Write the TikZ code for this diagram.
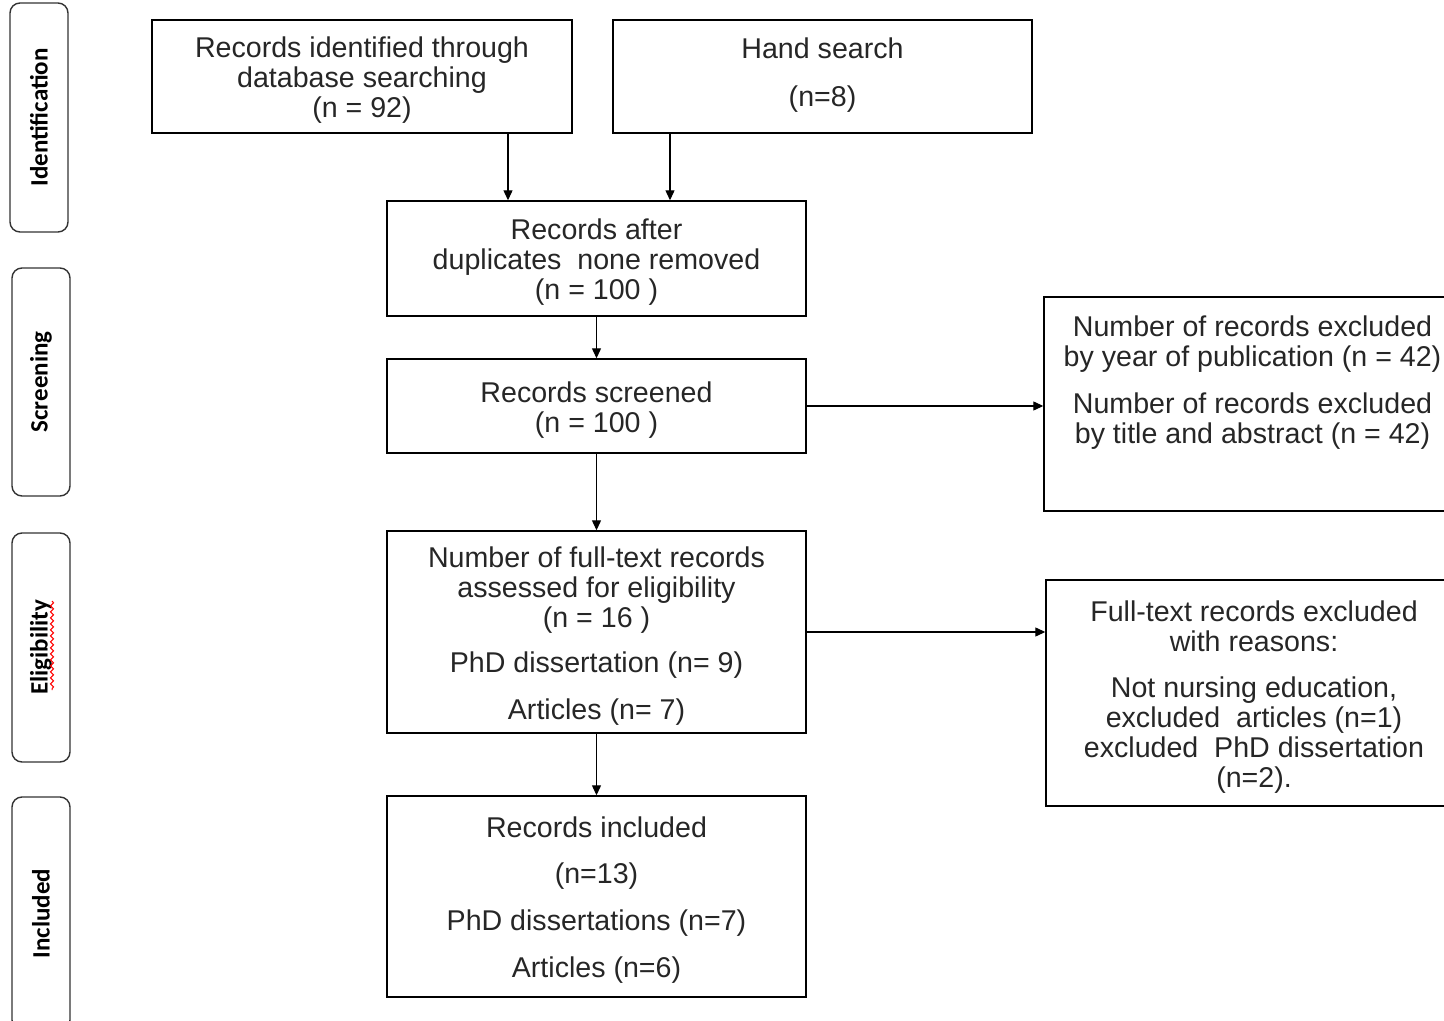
\documentclass[tikz,border=0pt]{standalone}
\usepackage{fontspec}
\setmainfont{Liberation Sans}
\newfontfamily\sidefont{Carlito}
\usetikzlibrary{arrows.meta,decorations.pathmorphing}
\begin{document}
\begin{tikzpicture}[x=0.5pt,y=-0.5pt,
  box/.style={draw=black,line width=0.7pt,rectangle,inner sep=0pt},
  txt/.style={inner sep=0pt,align=center,font=\fontsize{14.3}{15}\selectfont,text=black!85,yshift=-2pt},
  side/.style={draw=black!80,line width=0.7pt,rounded corners=5pt,rectangle,inner sep=0pt,
    rotate=90,font=\sidefont\bfseries\fontsize{12.5}{13}\selectfont,minimum height=29pt},
  arr/.style={-{Triangle[length=5pt,width=4.5pt]},line width=0.6pt,draw=black}]
\useasboundingbox (0,0) rectangle (1444,1021);
% side phase labels
\node[side,minimum width=114.5pt] (s1) at (39,117.5) {Identification};
\node[side,minimum width=114pt] (s2) at (41,382) {Screening};
\node[side,minimum width=114.5pt] (s3) at (41,647.5) {Eligibility};
\node[side,minimum width=116.5pt] (s4) at (41,913.5) {Included};
\draw[red,line width=0.5pt,decorate,decoration={snake,amplitude=0.8pt,segment length=3pt}] (52,601) -- (52,690);
% main boxes
\node[box,minimum width=210pt,minimum height=56.5pt] (A) at (362,76.5) {};
\node[txt] (At) at (A) {Records identified through\\database searching\\(n = 92)};
\node[box,minimum width=209.5pt,minimum height=56.5pt] (B) at (822.5,76.5) {};
\node[txt,yshift=2.5pt] (Bt) at (B) {Hand search\\[9pt](n=8)};
\node[box,minimum width=209.5pt,minimum height=57.5pt] (C) at (596.5,258.5) {};
\node[txt] (Ct) at (C) {Records after\\duplicates\ \ none removed\\(n = 100 )};
\node[box,minimum width=209.5pt,minimum height=47pt] (D) at (596.5,406) {};
\node[txt] (Dt) at (D) {Records screened\\(n = 100 )};
\node[box,minimum width=209.5pt,minimum height=101pt] (E) at (596.5,632) {};
\node[txt] (Et) at (E) {Number of full-text records\\assessed for eligibility\\(n = 16 )\\[7.5pt]PhD dissertation (n= 9)\\[8.5pt]Articles (n= 7)};
\node[box,minimum width=209.5pt,minimum height=100.5pt] (F) at (596.5,896.5) {};
\node[txt] (Ft) at (F) {Records included\\[8pt](n=13)\\[8.5pt]PhD dissertations (n=7)\\[8.5pt]Articles (n=6)};
\node[box,minimum width=208.5pt,minimum height=107pt] (G) at (1252.5,404) {};
\node[txt] (Gt) at (1252.5,378.5)
  {Number of records excluded\\by year of publication (n = 42)\\[8.5pt]Number of records excluded\\by title and abstract (n = 42)};
\node[box,minimum width=208pt,minimum height=113pt] (H) at (1254,693) {};
\node[txt] (Ht) at (H) {Full-text records excluded\\with reasons:\\[8pt]Not nursing education,\\excluded\ \ articles (n=1)\\excluded\ \ PhD dissertation\\(n=2).};
% connectors
\coordinate (xa) at (508,0);
\coordinate (xb) at (670,0);
\draw[arr] (A.south -| xa) -- (C.north -| xa);
\draw[arr] (B.south -| xb) -- (C.north -| xb);
\draw[arr] (C.south) -- (D.north);
\draw[arr] (D.south) -- (E.north);
\draw[arr] (E.south) -- (F.north);
\draw[arr] (D.east) -- (D.east -| G.west);
\draw[arr] (E.east) -- (E.east -| H.west);
\end{tikzpicture}
\end{document}
